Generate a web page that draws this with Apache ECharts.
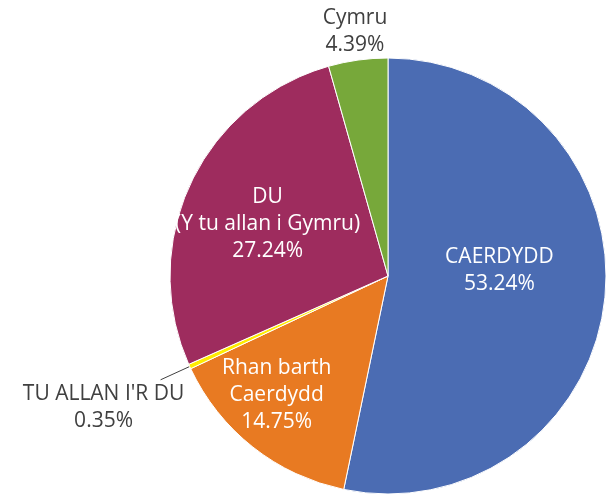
<!DOCTYPE html>
<html><head><meta charset="utf-8">
<script src="https://cdn.jsdelivr.net/npm/echarts@6/dist/echarts.min.js"></script>
<style>html,body{margin:0;padding:0;background:#fff}#c{width:612px;height:494px}</style>
</head><body><div id="c"></div>
<script>
const names = ['CAERDYDD', 'Rhan barth\nCaerdydd', "TU ALLAN I'R DU", 'DU\n(Y tu allan i Gymru)', 'Cymru'];
const values = [53.24, 14.75, 0.35, 27.24, 4.39];
const colors = ['#4b6cb3', '#e87a22', '#ffec00', '#9e2c5e', '#77a83a'];

const chart = echarts.init(document.getElementById('c'));
const insideOffsets = {0: [0, -17], 1: [-42, 31], 3: [-19, -4]};
const fontBase = {fontFamily: 'Open Sans', fontSize: 21, lineHeight: 27, color: '#404040'};
const data = names.map((n, i) => {
  const d = {name: n, value: values[i], itemStyle: {color: colors[i]}};
  if (i === 2) {
    d.label = {
      position: 'outside', color: '#404040', offset: [33, 28],
      formatter: p => '{c|' + p.name + '}\n{c|' + p.value.toFixed(2) + '%}',
      rich: {c: Object.assign({width: 170, align: 'center'}, fontBase)}
    };
    d.labelLine = {show: true, length: 32, length2: 0, lineStyle: {color: '#404040', width: 1}};
  } else if (i === 4) {
    d.label = {position: 'outside', color: '#404040'};
    d.labelLine = {show: false};
  } else {
    d.label = {position: 'inside', color: '#ffffff', offset: insideOffsets[i]};
  }
  return d;
});

chart.setOption({
  animation: false,
  series: [{
    type: 'pie',
    center: [388, 276],
    radius: [0, 218],
    startAngle: 90,
    clockwise: true,
    avoidLabelOverlap: false,
    itemStyle: {borderColor: '#ffffff', borderWidth: 1},
    label: {
      fontFamily: 'Open Sans',
      fontSize: 21,
      lineHeight: 27,
      align: 'center',
      formatter: p => p.name + '\n' + p.value.toFixed(2) + '%'
    },
    labelLayout: function (p) {
      if (p.dataIndex === 4) return {x: 355, y: 32, align: 'center', verticalAlign: 'middle'};
      return {};
    },
    data: data
  }]
});
</script></body></html>
